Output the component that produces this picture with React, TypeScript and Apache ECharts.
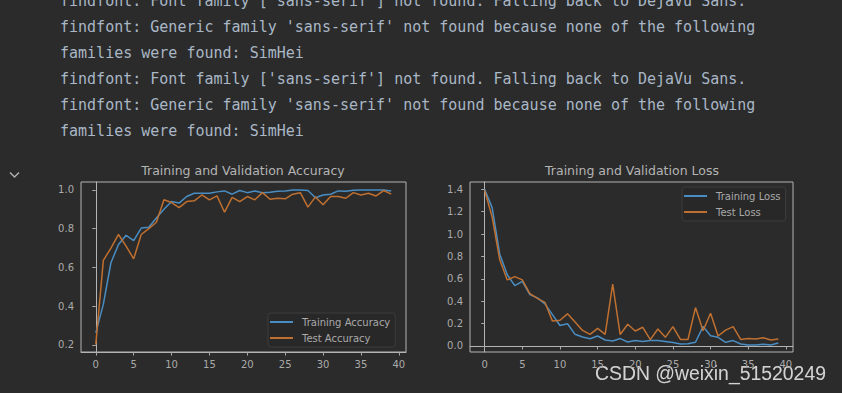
import React, { useEffect, useRef } from "react";
import * as echarts from "echarts";

const epochs: number[] = Array.from({ length: 40 }, (_, i) => i);

const trainAcc = [0.262, 0.41, 0.624, 0.718, 0.766, 0.738, 0.803, 0.807, 0.855, 0.9,
  0.94, 0.932, 0.966, 0.983, 0.983, 0.983, 0.99, 0.995, 0.978, 0.997,
  0.986, 0.995, 0.986, 0.988, 0.993, 0.995, 1.0, 1.0, 0.997, 0.96,
  0.974, 0.978, 0.995, 0.993, 0.998, 1.0, 1.0, 1.0, 1.0, 0.995];
const testAcc = [0.202, 0.636, 0.7, 0.77, 0.71, 0.644, 0.77, 0.8, 0.833, 0.949,
  0.935, 0.909, 0.94, 0.944, 0.974, 0.949, 0.969, 0.885, 0.962, 0.94,
  0.966, 0.949, 0.986, 0.952, 0.957, 0.954, 0.978, 0.986, 0.911, 0.964,
  0.923, 0.966, 0.966, 0.957, 0.986, 0.974, 0.983, 0.969, 0.997, 0.978];
const trainLoss = [1.4, 1.234, 0.82, 0.636, 0.539, 0.577, 0.459, 0.43, 0.376, 0.28,
  0.183, 0.198, 0.104, 0.08, 0.065, 0.089, 0.053, 0.044, 0.066, 0.035,
  0.048, 0.04, 0.048, 0.048, 0.04, 0.031, 0.018, 0.02, 0.033, 0.173,
  0.092, 0.077, 0.033, 0.048, 0.018, 0.009, 0.009, 0.015, 0.009, 0.026];
const testLoss = [1.39, 1.15, 0.77, 0.59, 0.62, 0.59, 0.468, 0.425, 0.39, 0.222,
  0.23, 0.287, 0.213, 0.139, 0.104, 0.157, 0.104, 0.552, 0.102, 0.194,
  0.134, 0.167, 0.056, 0.152, 0.077, 0.173, 0.058, 0.058, 0.343, 0.136,
  0.292, 0.089, 0.142, 0.173, 0.058, 0.067, 0.063, 0.074, 0.053, 0.063];

const xTicks = [0, 5, 10, 15, 20, 25, 30, 35, 40];
const accTicks = [0.2, 0.4, 0.6, 0.8, 1.0];
const lossTicks = [0.0, 0.2, 0.4, 0.6, 0.8, 1.0, 1.2, 1.4];

const consoleLines = [
  "findfont: Font family ['sans-serif'] not found. Falling back to DejaVu Sans.",
  "findfont: Generic family 'sans-serif' not found because none of the following",
  "families were found: SimHei",
  "findfont: Font family ['sans-serif'] not found. Falling back to DejaVu Sans.",
  "findfont: Generic family 'sans-serif' not found because none of the following",
  "families were found: SimHei",
];

const BG = "#2b2b2b";
const BLUE = "#4a8dc2";
const ORANGE = "#bf7030";
const TXT = "#aaaaaa";
const SPINE = "#b4b4b4";
const FONT = "DejaVu Sans";

function xAxis(gridIndex: number) {
  return {
    type: "value",
    gridIndex,
    min: -1.95,
    max: 40.95,
    splitLine: { show: false },
    axisLine: { show: true, lineStyle: { color: SPINE, width: 1 } },
    axisTick: { show: true, length: 3.5, customValues: xTicks, lineStyle: { color: TXT } },
    axisLabel: { customValues: xTicks, color: TXT, fontSize: 10, fontFamily: FONT, margin: 7 },
  };
}

function yAxis(gridIndex: number, min: number, max: number, ticks: number[]) {
  return {
    type: "value",
    gridIndex,
    min,
    max,
    splitLine: { show: false },
    axisLine: { show: true, lineStyle: { color: SPINE, width: 1 } },
    axisTick: { show: true, length: 3.5, customValues: ticks, lineStyle: { color: TXT } },
    axisLabel: {
      customValues: ticks,
      color: TXT,
      fontSize: 10,
      fontFamily: FONT,
      margin: 7,
      formatter: (v: number) => v.toFixed(1),
    },
  };
}

function legend(names: string[], left: number, top: number) {
  return {
    data: names,
    orient: "vertical",
    left,
    top,
    icon: "rect",
    itemWidth: 23,
    itemHeight: 2,
    itemGap: 4,
    padding: [3, 5, 3, 2],
    backgroundColor: "#282828",
    borderColor: "#3d3d3d",
    borderWidth: 1,
    borderRadius: 3,
    textStyle: { color: TXT, fontSize: 10, fontFamily: FONT, lineHeight: 12, padding: [0, 0, 0, 4] },
  };
}

function line(name: string, data: number[], color: string, idx: number) {
  return {
    name,
    type: "line",
    xAxisIndex: idx,
    yAxisIndex: idx,
    data: epochs.map((e, i) => [e, data[i]]),
    showSymbol: false,
    symbol: "none",
    lineStyle: { color, width: 1.5 },
    itemStyle: { color },
  };
}

export default function App() {
  const ref = useRef<HTMLDivElement>(null);
  useEffect(() => {
    document.body.style.margin = "0";
    document.body.style.background = BG;
    const chart = echarts.init(ref.current!, undefined, { renderer: "svg" });
    const graphics: any[] = consoleLines.map((t, k) => ({
      type: "text",
      x: 60,
      y: 1 + 26 * k,
      style: {
        text: t,
        fill: "#a9b7c6",
        font: "15px 'DejaVu Sans Mono'",
        textVerticalAlign: "middle",
      },
    }));
    graphics.push({
      type: "polyline",
      shape: { points: [[10, 172.5], [14.5, 177], [19, 172.5]] },
      style: { stroke: "#b0b0b0", lineWidth: 1.5, fill: null },
    });
    graphics.push({
      type: "text",
      x: 595,
      y: 373,
      style: {
        text: "CSDN @weixin_51520249",
        fill: "#d2d2d2",
        font: "19.4px 'Liberation Sans'",
        textVerticalAlign: "middle",
        textShadowColor: "rgba(0,0,0,0.4)",
        textShadowBlur: 1,
      },
    });
    chart.setOption({
      animation: false,
      backgroundColor: BG,
      title: [
        {
          text: "Training and Validation Accuracy",
          left: 243,
          top: 164,
          textAlign: "center",
          padding: 0,
          textStyle: { color: "#b4b4b4", fontSize: 12.5, fontWeight: "normal", fontFamily: FONT },
        },
        {
          text: "Training and Validation Loss",
          left: 632,
          top: 164,
          textAlign: "center",
          padding: 0,
          textStyle: { color: "#b4b4b4", fontSize: 12.5, fontWeight: "normal", fontFamily: FONT },
        },
      ],
      grid: [
        { left: 81, top: 182, width: 325, height: 170, show: true, borderColor: SPINE, borderWidth: 1, backgroundColor: "transparent" },
        { left: 470, top: 182, width: 323, height: 170, show: true, borderColor: SPINE, borderWidth: 1, backgroundColor: "transparent" },
      ],
      xAxis: [xAxis(0), xAxis(1)],
      yAxis: [yAxis(0, 0.163, 1.041, accTicks), yAxis(1, -0.054, 1.465, lossTicks)],
      legend: [
        legend(["Training Accuracy", "Test Accuracy"], 268, 313),
        legend(["Training Loss", "Test Loss"], 682, 187),
      ],
      series: [
        line("Training Accuracy", trainAcc, BLUE, 0),
        line("Test Accuracy", testAcc, ORANGE, 0),
        line("Training Loss", trainLoss, BLUE, 1),
        line("Test Loss", testLoss, ORANGE, 1),
      ],
      graphic: graphics,
    });
    return () => chart.dispose();
  }, []);
  return (
    <div
      ref={ref}
      style={{ position: "absolute", left: 0, top: 0, width: 842, height: 393, background: BG }}
    />
  );
}
